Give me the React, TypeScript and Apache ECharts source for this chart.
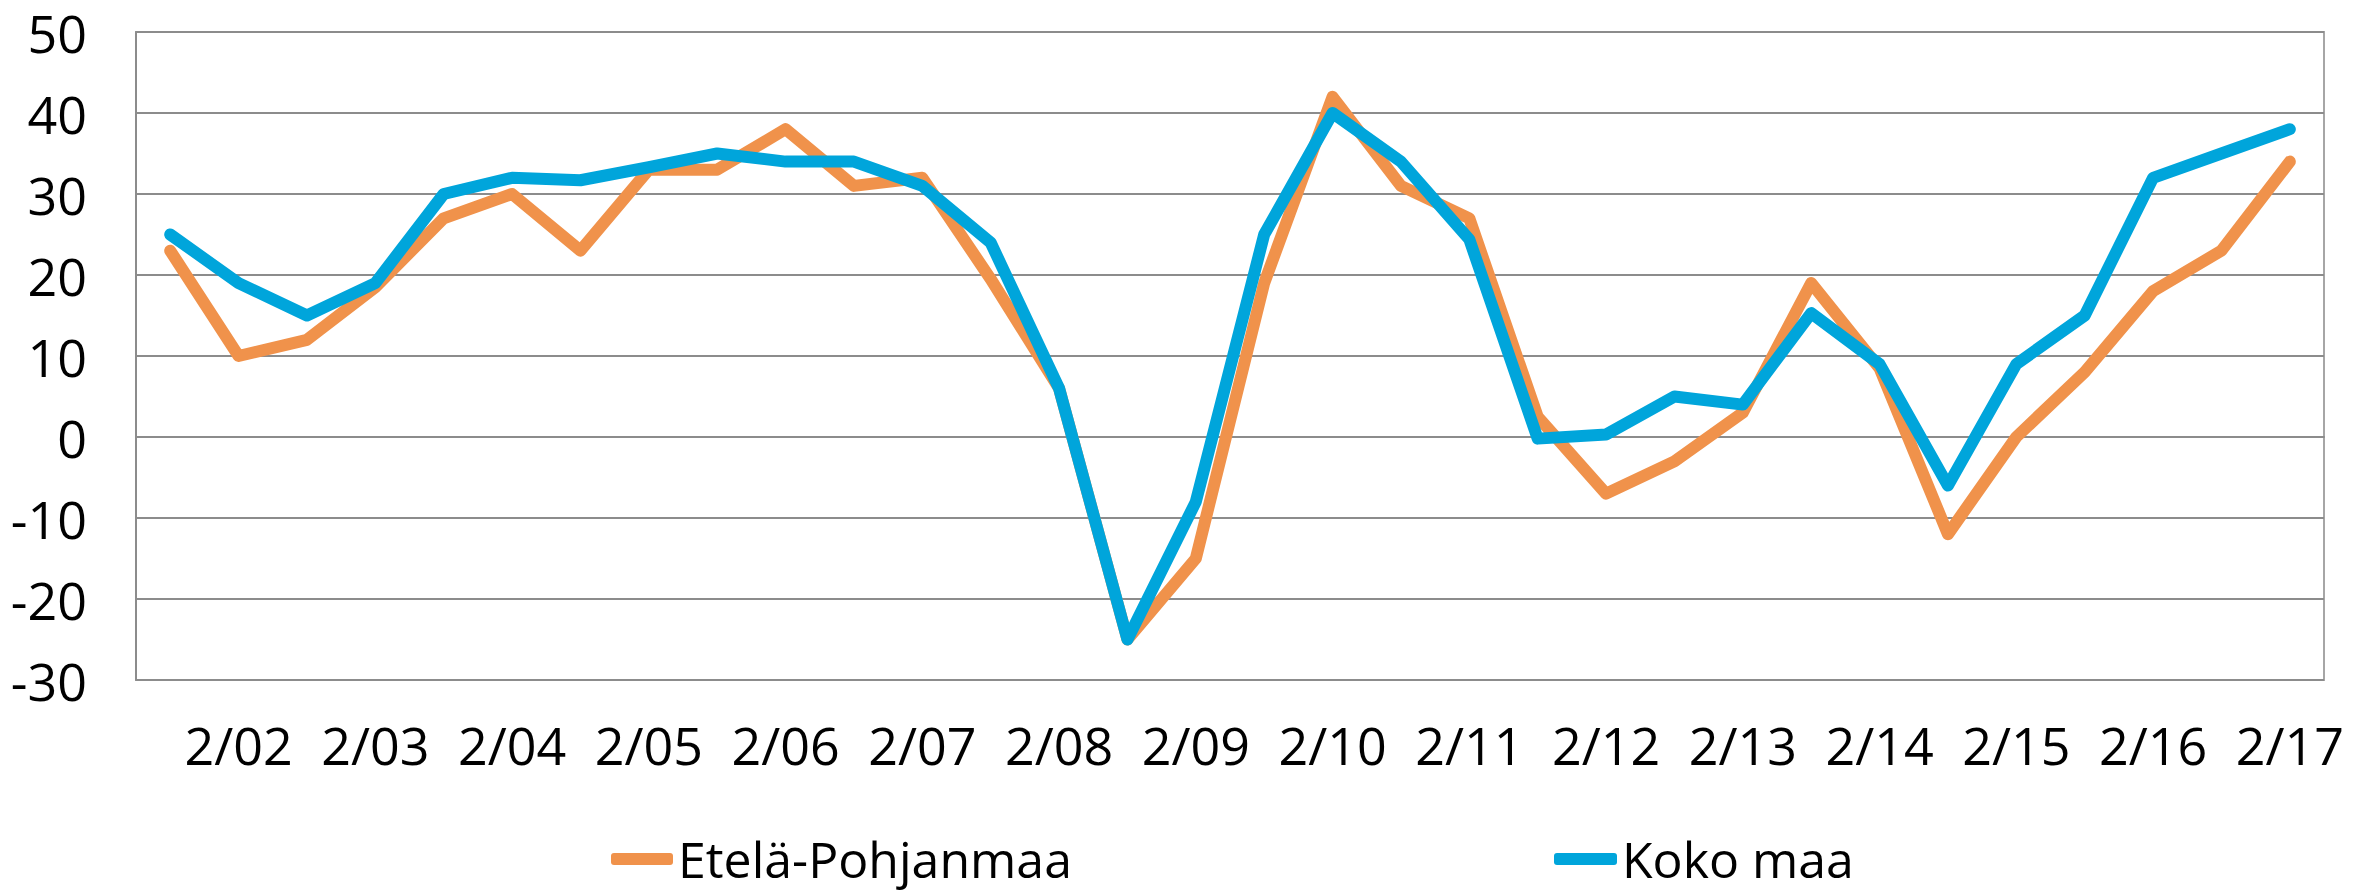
import React, { useEffect, useRef } from "react";
import * as echarts from "echarts";

const categories: string[] = [
  "8/01", "2/02", "8/02", "2/03", "8/03", "2/04", "8/04", "2/05",
  "8/05", "2/06", "8/06", "2/07", "8/07", "2/08", "8/08", "2/09",
  "8/09", "2/10", "8/10", "2/11", "8/11", "2/12", "8/12", "2/13",
  "8/13", "2/14", "8/14", "2/15", "8/15", "2/16", "8/16", "2/17",
];

const etelaPohjanmaa: number[] = [
  23, 10, 12, 18.5, 27, 30, 23, 33,
  33, 38, 31, 32, 19.5, 6, -25, -15,
  19, 42, 31, 27, 2.5, -7, -3, 3,
  19, 8.5, -12, 0, 8, 18, 23, 34,
];

const kokoMaa: number[] = [
  25, 19, 15, 19, 30, 32, 31.7, 33.3,
  35, 34, 34, 31, 24, 6, -25, -8,
  25, 40, 34, 24.4, -0.2, 0.3, 5, 4,
  15.3, 9, -6, 9, 15, 32, 35, 38,
];

const yTicks = { min: -30, max: 50, interval: 10 };

const FONT = "'Open Sans', 'Noto Sans', sans-serif";

export default function App() {
  const ref = useRef<HTMLDivElement>(null);
  useEffect(() => {
    document.body.style.margin = "0";
    if (!ref.current) return;
    const chart = echarts.init(ref.current, null, { renderer: "svg" });
    chart.setOption({
      animation: false,
      backgroundColor: "#ffffff",
      textStyle: { fontFamily: FONT },
      grid: {
        left: 136,
        right: 50,
        top: 32,
        bottom: 212,
        show: true,
        borderColor: "#a6a6a6",
        borderWidth: 2,
        containLabel: false,
      },
      legend: [
        {
          data: ["Etelä-Pohjanmaa"],
          left: 606,
          top: 829,
          icon: "roundRect",
          itemWidth: 62,
          itemHeight: 12,
          itemGap: 0,
          textStyle: { fontSize: 50, color: "#000", fontFamily: FONT },
        },
        {
          data: ["Koko maa"],
          left: 1549,
          top: 829,
          icon: "roundRect",
          itemWidth: 63,
          itemHeight: 12,
          itemGap: 0,
          textStyle: { fontSize: 50, color: "#000", fontFamily: FONT },
        },
      ],
      xAxis: {
        type: "category",
        data: categories,
        boundaryGap: true,
        axisLine: { show: true, lineStyle: { color: "#8c8c8c", width: 2 } },
        axisTick: { show: false },
        axisLabel: {
          interval: (idx: number) => idx % 2 === 1,
          fontSize: 52,
          color: "#000",
          margin: 38,
          fontFamily: FONT,
        },
        splitLine: { show: false },
      },
      yAxis: {
        type: "value",
        min: yTicks.min,
        max: yTicks.max,
        interval: yTicks.interval,
        axisLine: { show: true, lineStyle: { color: "#8c8c8c", width: 2 } },
        axisTick: { show: false },
        axisLabel: { fontSize: 52, color: "#000", margin: 49, fontFamily: FONT },
        splitLine: { show: true, lineStyle: { color: "#8c8c8c", width: 2 } },
      },
      series: [
        {
          name: "Etelä-Pohjanmaa",
          type: "line",
          data: etelaPohjanmaa,
          showSymbol: false,
          symbol: "none",
          itemStyle: { color: "#F0924B" },
          lineStyle: { color: "#F0924B", width: 12, cap: "round", join: "round" },
        },
        {
          name: "Koko maa",
          type: "line",
          data: kokoMaa,
          showSymbol: false,
          symbol: "none",
          itemStyle: { color: "#00A5DB" },
          lineStyle: { color: "#00A5DB", width: 12, cap: "round", join: "round" },
        },
      ],
    });
    return () => chart.dispose();
  }, []);
  return <div ref={ref} style={{ width: 2374, height: 892 }} />;
}
